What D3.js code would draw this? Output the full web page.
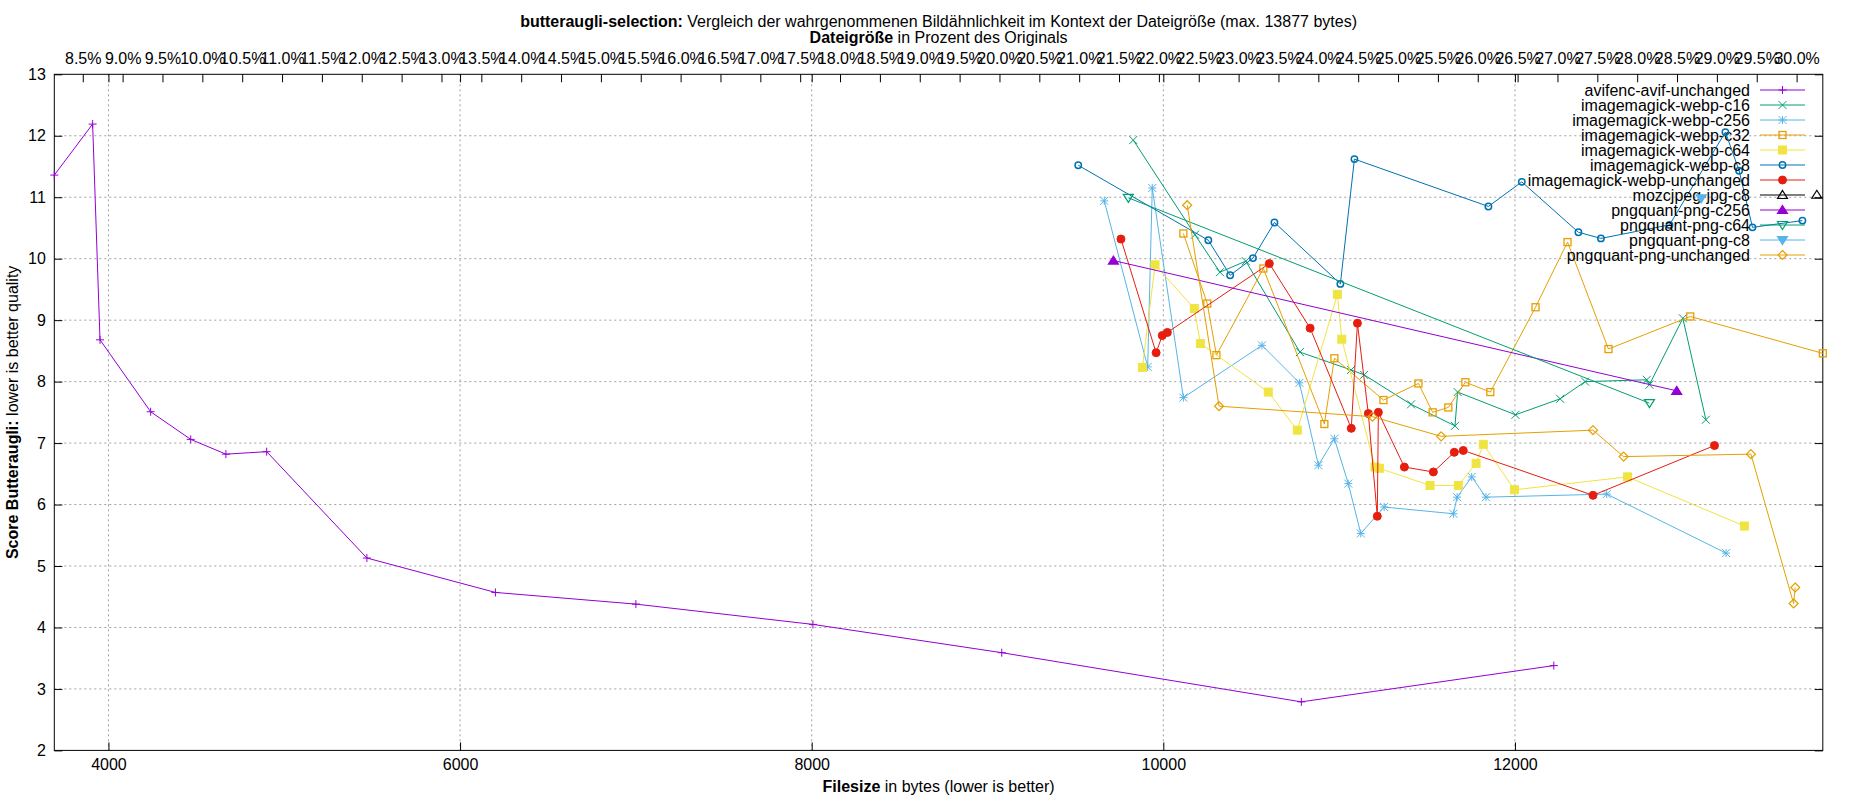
<!DOCTYPE html>
<html><head><meta charset="utf-8">
<script src="https://cdn.jsdelivr.net/npm/d3@7/dist/d3.min.js"></script>
<style>body{margin:0;background:#fff}svg{display:block;font-family:"Liberation Sans",Arial,sans-serif}</style>
</head><body>
<script>
// ---- data (filesize in bytes, butteraugli score) ----
const seriesNames = ["avifenc-avif-unchanged","imagemagick-webp-c16","imagemagick-webp-c256","imagemagick-webp-c32","imagemagick-webp-c64","imagemagick-webp-c8","imagemagick-webp-unchanged","mozcjpeg-jpg-c8","pngquant-png-c256","pngquant-png-c64","pngquant-png-c8","pngquant-png-unchanged"];
const avifUnchanged = [[3692,11.36],[3910,12.19],[3952,8.68],[4240,7.51],[4468,7.06],[4668,6.82],[4900,6.86],[5470,5.13],[6201,4.57],[7000,4.38],[8007,4.05],[9081,3.59],[10785,2.79],[12221,3.38]];
const webpC16 = [[9829,11.93],[10180,10.39],[10322,9.78],[10469,9.96],[10777,8.48],[11068,8.19],[11142,8.11],[11409,7.63],[11659,7.28],[11674,7.83],[12003,7.46],[12257,7.72],[12399,8.00],[12750,8.03],[12765,7.95],[12955,9.03],[13086,7.38]];
const webpC256 = [[9664,10.94],[9911,8.24],[9937,11.15],[10114,7.74],[10561,8.59],[10774,7.98],[10882,6.64],[10973,7.07],[11052,6.34],[11123,5.53],[11256,5.96],[11650,5.85],[11671,6.12],[11754,6.45],[11835,6.12],[12522,6.17],[13201,5.21]];
const webpC32 = [[10114,10.41],[10250,9.27],[10302,8.43],[10569,9.84],[10916,7.31],[10973,8.38],[11252,7.70],[11451,7.97],[11532,7.50],[11621,7.58],[11718,7.99],[11860,7.83],[12117,9.21],[12299,10.27],[12532,8.53],[12997,9.06],[13751,8.46]];
const webpC64 = [[9881,8.23],[9953,9.90],[10176,9.19],[10211,8.62],[10597,7.83],[10762,7.21],[10990,9.42],[11015,8.69],[11204,6.61],[11229,6.59],[11517,6.31],[11678,6.31],[11779,6.67],[11820,6.98],[11997,6.24],[12640,6.45],[13305,5.65]];
const webpC8 = [[9516,11.52],[10256,10.30],[10380,9.73],[10510,10.01],[10632,10.59],[11007,9.59],[11087,11.62],[11849,10.85],[12039,11.25],[12361,10.43],[12489,10.33],[12879,10.55],[13197,12.06],[13275,11.43],[13351,10.51],[13635,10.62]];
const webpUnchanged = [[9759,10.32],[9959,8.47],[9994,8.75],[10023,8.80],[10603,9.92],[10835,8.87],[11069,7.24],[11104,8.95],[11166,7.48],[11217,5.81],[11223,7.50],[11371,6.61],[11536,6.53],[11655,6.85],[11706,6.88],[12444,6.15],[13135,6.96]];
const mozjpegC8 = [[13717,11.04]];
const pngC256 = [[9716,9.97],[12920,7.85]];
const pngC64 = [[9801,10.99],[12765,7.65]];
const pngC8 = [[13059,10.98]];
const pngUnchanged = [[10136,10.87],[10317,7.60],[11189,7.43],[11580,7.11],[12444,7.21],[12618,6.78],[13342,6.82],[13585,4.39],[13594,4.65]];
const seriesData = [avifUnchanged,webpC16,webpC256,webpC32,webpC64,webpC8,webpUnchanged,mozjpegC8,pngC256,pngC64,pngC8,pngUnchanged];
const seriesColors = ["#9400d3","#009e73","#56b4e9","#e69f00","#f0e442","#0072b2","#e51e10","#000000","#9400d3","#009e73","#56b4e9","#e69f00"];
const seriesMarkers = ["plus","cross","star","square","fsquare","circle","fcircle","triangle","ftriangle","dtriangle","fdtriangle","diamond"];
const yTicks = [2,3,4,5,6,7,8,9,10,11,12,13];
const xTicks = [4000,6000,8000,10000,12000];
const x2TickPct = d3.range(17, 61).map(v => v/2); // 8.5% .. 30.0%
const originalSize = 45340; // bytes of the original (x2 axis = filesize in %)
const titleBold = "butteraugli-selection:";
const titleRest = " Vergleich der wahrgenommenen Bildähnlichkeit im Kontext der Dateigröße (max. 13877 bytes)";

// ---- layout ----
const W = 1850, H = 800;
const L = 54.3, R = 1822.8, T = 74.3, B = 750.4;
const all = seriesData.flat();
const x = d3.scaleLinear().domain(d3.extent(all, d => d[0])).range([L, R]);
const y = d3.scaleLinear().domain([2, 13]).range([B, T]);

const svg = d3.select("body").append("svg").attr("width", W).attr("height", H);
svg.append("rect").attr("width", W).attr("height", H).attr("fill", "#fff");

// grid
const grid = svg.append("g").attr("stroke", "#a0a0a0").attr("stroke-width", 1).attr("stroke-dasharray", "2,3");
yTicks.filter(v => v > 2 && v < 13).forEach(v => grid.append("line").attr("x1", L).attr("x2", R).attr("y1", y(v)).attr("y2", y(v)));
xTicks.forEach(v => grid.append("line").attr("x1", x(v)).attr("x2", x(v)).attr("y1", T).attr("y2", B));

// axes via d3
const fs = 16;
const axB = svg.append("g").attr("transform", `translate(0,${B})`)
  .call(d3.axisBottom(x).tickValues(xTicks).tickSizeInner(-8).tickSizeOuter(0).tickPadding(8.4).tickFormat(d3.format("d")));
const axT = svg.append("g").attr("transform", `translate(0,${T})`)
  .call(d3.axisTop(x).tickValues(xTicks).tickSizeInner(-8).tickSizeOuter(0).tickFormat(""));
const axL = svg.append("g").attr("transform", `translate(${L},0)`)
  .call(d3.axisLeft(y).tickValues(yTicks).tickSizeInner(-8).tickSizeOuter(0).tickPadding(8.5).tickFormat(d3.format("d")));
const axR = svg.append("g").attr("transform", `translate(${R},0)`)
  .call(d3.axisRight(y).tickValues(yTicks).tickSizeInner(-8).tickSizeOuter(0).tickFormat(""));
const x2 = d3.scaleLinear().domain(x.domain().map(v => v / originalSize * 100)).range([L, R]);
const axX2 = svg.append("g").attr("transform", `translate(0,${T})`)
  .call(d3.axisTop(x2).tickValues(x2TickPct).tickSizeInner(-8).tickSizeOuter(0).tickPadding(10.8).tickFormat(d => d3.format(".1f")(d) + "%"));
[axB, axT, axL, axR, axX2].forEach(a => {
  a.selectAll(".domain").remove();
  a.selectAll("line").attr("stroke", "#000").attr("stroke-width", 1);
  a.selectAll("text").attr("font-size", fs).attr("fill", "#000").attr("font-family", '"Liberation Sans",Arial,sans-serif');
});
svg.append("rect").attr("x", L).attr("y", T).attr("width", R - L).attr("height", B - T)
  .attr("fill", "none").attr("stroke", "#000").attr("stroke-width", 1);

// markers
function marker(g, type, cx, cy, color) {
  const s = 4;
  switch (type) {
    case "plus":
      g.append("path").attr("d", `M${cx-s},${cy}H${cx+s}M${cx},${cy-s}V${cy+s}`).attr("stroke", color).attr("fill", "none"); break;
    case "cross":
      g.append("path").attr("d", `M${cx-s},${cy-s}L${cx+s},${cy+s}M${cx-s},${cy+s}L${cx+s},${cy-s}`).attr("stroke", color).attr("fill", "none"); break;
    case "star":
      g.append("path").attr("d", `M${cx-s},${cy}H${cx+s}M${cx},${cy-s}V${cy+s}M${cx-s},${cy-s}L${cx+s},${cy+s}M${cx-s},${cy+s}L${cx+s},${cy-s}`).attr("stroke", color).attr("fill", "none"); break;
    case "square":
      g.append("rect").attr("x", cx-3.5).attr("y", cy-3.5).attr("width", 7).attr("height", 7).attr("fill", "none").attr("stroke", color).attr("stroke-width", 1.3); break;
    case "fsquare":
      g.append("rect").attr("x", cx-4).attr("y", cy-4).attr("width", 8).attr("height", 8).attr("fill", color).attr("stroke", color); break;
    case "circle":
      g.append("circle").attr("cx", cx).attr("cy", cy).attr("r", 3.2).attr("fill", "none").attr("stroke", color).attr("stroke-width", 1.5); break;
    case "fcircle":
      g.append("circle").attr("cx", cx).attr("cy", cy).attr("r", 4).attr("fill", color).attr("stroke", color); break;
    case "triangle":
    case "ftriangle":
      g.append("path").attr("d", `M${cx},${cy-4.5}L${cx+5},${cy+3.5}L${cx-5},${cy+3.5}Z`)
        .attr("fill", type === "ftriangle" ? color : "none").attr("stroke", color).attr("stroke-width", 1.2); break;
    case "dtriangle":
    case "fdtriangle":
      g.append("path").attr("d", `M${cx},${cy+4.5}L${cx+5},${cy-3.5}L${cx-5},${cy-3.5}Z`)
        .attr("fill", type === "fdtriangle" ? color : "none").attr("stroke", color).attr("stroke-width", 1.2); break;
    case "diamond":
      g.append("path").attr("d", `M${cx},${cy-4.5}L${cx+4.5},${cy}L${cx},${cy+4.5}L${cx-4.5},${cy}Z`).attr("fill", "none").attr("stroke", color).attr("stroke-width", 1.2); break;
  }
}

// series
const line = d3.line().x(d => x(d[0])).y(d => y(d[1]));
const legendRight = 1750, legendY0 = 90, legendDy = 15;
seriesData.forEach((data, i) => {
  const g = svg.append("g");
  const c = seriesColors[i];
  g.append("path").datum(data).attr("d", line).attr("fill", "none").attr("stroke", c).attr("stroke-width", 1);
  data.forEach(d => marker(g, seriesMarkers[i], x(d[0]), y(d[1]), c));
  // legend entry
  const ly = legendY0 + i * legendDy;
  svg.append("text").attr("x", legendRight).attr("y", ly).attr("dy", "0.35em").attr("text-anchor", "end")
    .attr("font-size", fs).attr("fill", "#000").text(seriesNames[i]);
  svg.append("line").attr("x1", 1760).attr("x2", 1805).attr("y1", ly).attr("y2", ly).attr("stroke", c).attr("stroke-width", 1);
  marker(svg.append("g"), seriesMarkers[i], 1782.5, ly, c);
});

// titles and labels
const cx = (L + R) / 2;
const t1 = svg.append("text").attr("x", cx).attr("y", 27).attr("text-anchor", "middle").attr("font-size", 16);
t1.append("tspan").attr("font-weight", "bold").text(titleBold);
t1.append("tspan").text(titleRest);
const t2 = svg.append("text").attr("x", cx).attr("y", 42.5).attr("text-anchor", "middle").attr("font-size", 16);
t2.append("tspan").attr("font-weight", "bold").text("Dateigröße");
t2.append("tspan").text(" in Prozent des Originals");
const xl = svg.append("text").attr("x", cx).attr("y", 791.5).attr("text-anchor", "middle").attr("font-size", fs);
xl.append("tspan").attr("font-weight", "bold").text("Filesize");
xl.append("tspan").text(" in bytes (lower is better)");
const yl = svg.append("text").attr("transform", `translate(18,${(T + B) / 2}) rotate(-90)`).attr("text-anchor", "middle").attr("font-size", fs);
yl.append("tspan").attr("font-weight", "bold").text("Score Butteraugli:");
yl.append("tspan").text(" lower is better quality");
</script>
</body></html>
